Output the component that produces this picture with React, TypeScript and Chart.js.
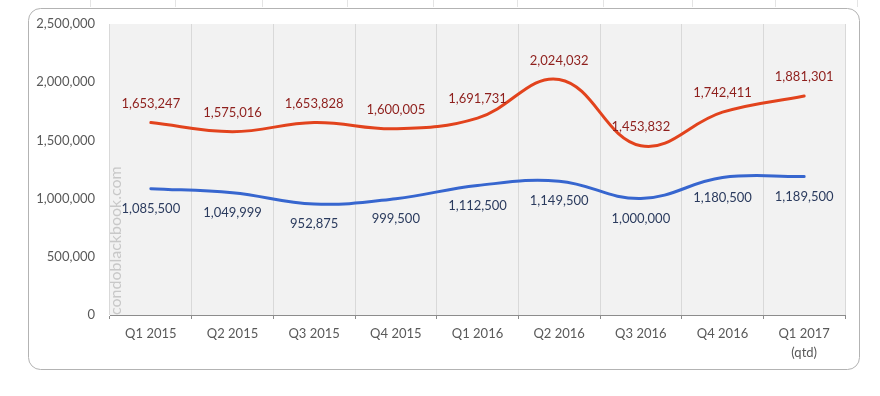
import React, { useEffect, useRef } from "react";
import { Chart, registerables } from "chart.js";

Chart.register(...registerables);

const categories: (string | string[])[] = [
  "Q1 2015", "Q2 2015", "Q3 2015", "Q4 2015", "Q1 2016",
  "Q2 2016", "Q3 2016", "Q4 2016", ["Q1 2017", "(qtd)"],
];
const redSeries = [1653247, 1575016, 1653828, 1600005, 1691731, 2024032, 1453832, 1742411, 1881301];
const blueSeries = [1085500, 1049999, 952875, 999500, 1112500, 1149500, 1000000, 1180500, 1189500];
const yTicks = [0, 500000, 1000000, 1500000, 2000000, 2500000];
const watermark = "condoblackbook.com";
const topLineXs = [90, 175, 262, 347, 433, 517, 603, 692, 775, 857];

const FONT = "Lato, 'Open Sans', sans-serif";
const fmt = (v: number) => v.toLocaleString("en-US");

const decorPlugin = {
  id: "decor",
  beforeDraw(chart: any) {
    const { ctx, chartArea } = chart;
    ctx.save();
    ctx.fillStyle = "#ffffff";
    ctx.fillRect(0, 0, chart.width, chart.height);
    ctx.strokeStyle = "#e4e4e4";
    ctx.lineWidth = 1;
    topLineXs.forEach((x) => {
      ctx.beginPath();
      ctx.moveTo(x + 0.5, 0);
      ctx.lineTo(x + 0.5, 7);
      ctx.stroke();
    });
    const bx = 28.5, by = 8.5, bw = 831, bh = 361, r = 12;
    ctx.strokeStyle = "#b3b3b3";
    ctx.beginPath();
    ctx.moveTo(bx + r, by);
    ctx.lineTo(bx + bw - r, by);
    ctx.arcTo(bx + bw, by, bx + bw, by + r, r);
    ctx.lineTo(bx + bw, by + bh - r);
    ctx.arcTo(bx + bw, by + bh, bx + bw - r, by + bh, r);
    ctx.lineTo(bx + r, by + bh);
    ctx.arcTo(bx, by + bh, bx, by + bh - r, r);
    ctx.lineTo(bx, by + r);
    ctx.arcTo(bx, by, bx + r, by, r);
    ctx.closePath();
    ctx.stroke();
    ctx.fillStyle = "#f2f2f2";
    ctx.fillRect(chartArea.left, chartArea.top, chartArea.right - chartArea.left, chartArea.bottom - chartArea.top);
    ctx.restore();
  },
  beforeDatasetsDraw(chart: any) {
    const { ctx, chartArea } = chart;
    ctx.save();
    ctx.translate(chartArea.left + 6, chartArea.bottom);
    ctx.rotate(-Math.PI / 2);
    ctx.fillStyle = "#c8c8c8";
    ctx.font = `16px ${FONT}`;
    ctx.textAlign = "left";
    ctx.textBaseline = "middle";
    ctx.fillText(watermark, 0, 0);
    ctx.restore();
  },
  afterDatasetsDraw(chart: any) {
    const { ctx } = chart;
    ctx.save();
    ctx.font = `13px ${FONT}`;
    ctx.textAlign = "center";
    ctx.textBaseline = "middle";
    chart.data.datasets.forEach((ds: any, i: number) => {
      const meta = chart.getDatasetMeta(i);
      const above = ds.labelPos === "above";
      ctx.fillStyle = ds.labelColor;
      meta.data.forEach((pt: any, j: number) => {
        const y = above ? pt.y - 19 : pt.y + 20;
        ctx.fillText(fmt(ds.data[j]), pt.x, y);
      });
    });
    ctx.restore();
  },
};

export default function App() {
  const ref = useRef<HTMLCanvasElement>(null);
  useEffect(() => {
    if (!ref.current) return;
    const chart = new Chart(ref.current, {
      type: "line",
      data: {
        labels: categories as any,
        datasets: [
          {
            label: "Red",
            data: redSeries,
            borderColor: "#e2431d",
            borderWidth: 3,
            pointRadius: 0,
            tension: 0.4,
            borderCapStyle: "round",
            fill: false,
            labelPos: "above",
            labelColor: "#8e1f1c",
          } as any,
          {
            label: "Blue",
            data: blueSeries,
            borderColor: "#3766cf",
            borderWidth: 3,
            pointRadius: 0,
            tension: 0.4,
            borderCapStyle: "round",
            fill: false,
            labelPos: "below",
            labelColor: "#2b3b5e",
          } as any,
        ],
      },
      options: {
        animation: false,
        responsive: false,
        devicePixelRatio: 1,
        layout: { padding: { left: 0, right: 35, top: 24, bottom: 0 } },
        plugins: {
          legend: { display: false },
          tooltip: { enabled: false },
        },
        scales: {
          x: {
            type: "category",
            offset: true,
            grid: {
              display: true,
              offset: true,
              color: "#d9d9d9",
              drawTicks: true,
              tickLength: 4,
              tickColor: "#8c8c8c",
            },
            border: { display: true, color: "#8c8c8c", width: 1 },
            ticks: {
              color: "#595959",
              font: { family: FONT, size: 13, lineHeight: 1.5 },
              padding: 5,
              maxRotation: 0,
              autoSkip: false,
            },
            afterFit(s: any) {
              s.height = 81;
            },
          },
          y: {
            min: 0,
            max: 2500000,
            afterBuildTicks(s: any) {
              s.ticks = yTicks.map((v) => ({ value: v }));
            },
            grid: { display: false, drawTicks: false },
            border: { display: false },
            ticks: {
              color: "#595959",
              font: { family: FONT, size: 13 },
              padding: 15,
              callback: (v: any) => fmt(Number(v)),
            },
            afterFit(s: any) {
              s.width = 110;
            },
          },
        },
      },
      plugins: [decorPlugin],
    });
    return () => chart.destroy();
  }, []);
  return (
    <div style={{ position: "fixed", left: 0, top: 0, width: 880, height: 396, background: "#fff" }}>
      <canvas ref={ref} width={880} height={396} style={{ width: 880, height: 396, display: "block" }} />
    </div>
  );
}
